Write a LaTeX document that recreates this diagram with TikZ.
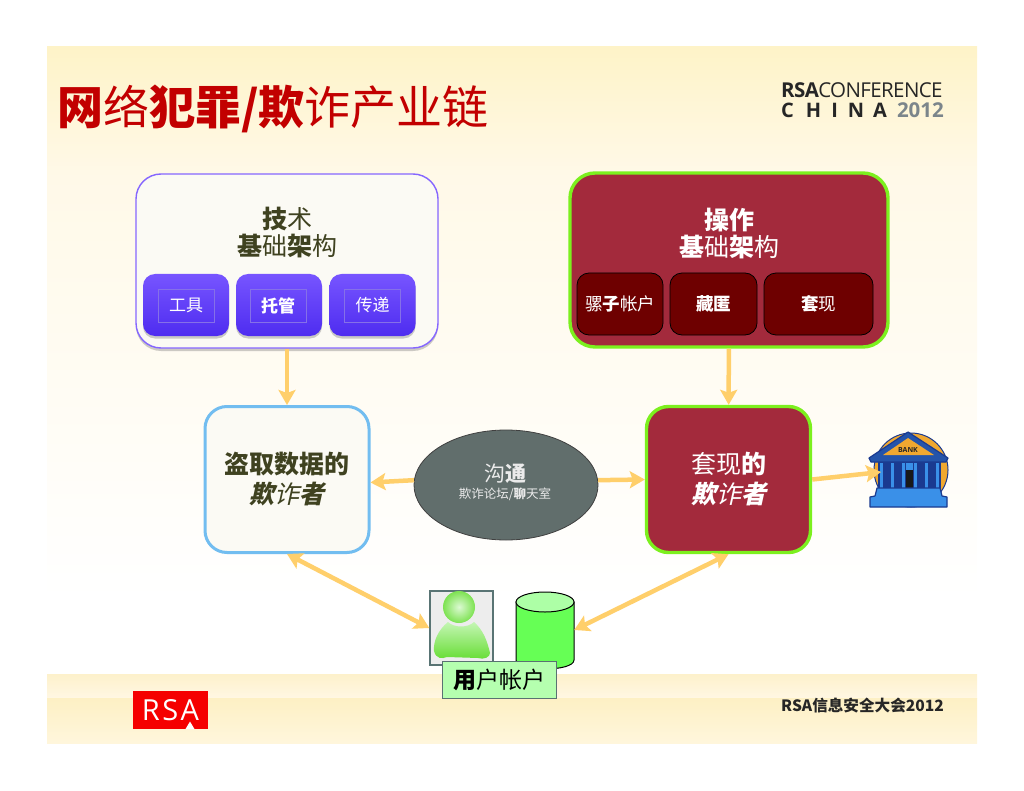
\documentclass[tikz,border=0pt]{standalone}
\usepackage{fontspec}
\usepackage{xcolor}
\usetikzlibrary{arrows.meta,positioning,shapes.geometric,shadows}
\setmainfont{Noto Sans CJK SC}
\newfontfamily\cjkslant[FakeSlant=0.22]{Noto Sans CJK SC}
\newfontfamily\logofont{Open Sans}
\newfontfamily\logotight[LetterSpace=-3]{Open Sans}
\newcommand{\fsize}[2]{\fontsize{#1}{#2}\selectfont}
\definecolor{arrowgold}{HTML}{FFCF6B}
\definecolor{crimson}{HTML}{A32A3C}
\definecolor{limeline}{HTML}{7CF01E}
\definecolor{skyline}{HTML}{72BDF0}
\definecolor{olivetext}{HTML}{3F4220}
\definecolor{techviolet}{HTML}{7755FF}
\definecolor{techdeep}{HTML}{4E2CF0}
\definecolor{techedge}{HTML}{8570E8}
\definecolor{paper}{HTML}{FBFAF4}
\definecolor{bankblue}{HTML}{1A3A90}
\definecolor{bankcol}{HTML}{3A90E8}
\definecolor{bankgold}{HTML}{F0A830}

\begin{document}
\begin{tikzpicture}[
  x=1pt, y=-1pt,
  techbox/.style={rectangle, rounded corners=25pt, draw=techviolet!90!white, line width=1.4pt, fill=paper, minimum width=302pt, minimum height=174pt, inner sep=0pt, drop shadow={shadow xshift=0pt, shadow yshift=-3pt, opacity=.4}},
  opsbox/.style={rectangle, rounded corners=25pt, draw=limeline, line width=3.4pt, fill=crimson, minimum width=318pt, minimum height=174pt, inner sep=0pt},
  techitem/.style={rectangle, rounded corners=12pt, top color=techviolet, bottom color=techdeep, minimum width=86pt, minimum height=62pt, inner sep=0pt, drop shadow={shadow xshift=0pt, shadow yshift=-2.5pt, opacity=.4}},
  techtag/.style={rectangle, draw=techedge, line width=.6pt, text=white, font=\fsize{17}{17}, minimum width=56pt, minimum height=33pt, inner sep=0pt},
  opsitem/.style={rectangle, rounded corners=12pt, draw=black, line width=.8pt, fill=red!43!black, text=white, font=\fsize{17.5}{18}, minimum height=62pt, inner sep=0pt},
  fraudbox/.style={rectangle, rounded corners=22pt, minimum width=164pt, minimum height=146pt, inner sep=0pt, align=center, font=\fsize{25}{30}},
  arrow/.style={-{Stealth[length=15pt,width=17pt,inset=3pt]}, line width=4.5pt, arrowgold},
  arrowboth/.style={{Stealth[length=15pt,width=17pt,inset=3pt]}-{Stealth[length=15pt,width=17pt,inset=3pt]}, line width=4.5pt, arrowgold}
]
\useasboundingbox (0,0) rectangle (1024,791);

% 背景
\definecolor{bgtop}{HTML}{FEF3C8}
\definecolor{bgmid}{HTML}{FFF9E8}
\shade[top color=bgtop, bottom color=bgmid] (47,47) rectangle (977,176);
\shade[top color=bgmid, bottom color=white] (47,175.5) rectangle (977,600);
\fill[white] (47,599.5) rectangle (977,674);
\definecolor{foota}{HTML}{FDF1CB}
\definecolor{footb}{HTML}{FFF7E3}
\definecolor{footc}{HTML}{FDF0C4}
\definecolor{footd}{HTML}{FFF6DC}
\shade[top color=foota, bottom color=footb] (47,674) rectangle (977,698);
\shade[top color=footc, bottom color=footd] (47,698) rectangle (977,743);

% 标题
\node[anchor=west, text=red!76!black, inner sep=0pt, font=\fsize{46}{46}] (title) at (57,109) {\textbf{网}络\textbf{犯罪/欺}诈产业链};

% 右上标志
\node[anchor=west, inner sep=0pt, text=black!85, font=\logotight\fsize{20.5}{20}] (logotop) at (781,90) {\textbf{RSA}CONFERENCE};
\node[anchor=west, inner sep=0pt, text=black!85, font=\logofont\bfseries\fsize{20}{20}] (logochina) at (781,110) {C\kern12pt H\kern10pt I\kern10pt N\kern9pt A};
\node[anchor=east, inner sep=0pt, text=black!55!cyan!30!gray, font=\logofont\bfseries\fsize{20.5}{20}] (logoyear) at (944,110) {2012};

% 左上（技术）
\node[techbox] (tech) at (287,261) {};
\node[align=center, text=olivetext, font=\fsize{25}{27}] (techlabel) at (287,233) {\textbf{技}术\\\textbf{基}础\textbf{架}构};
\node[techitem] (tools) at (186,305) {};
\node[techitem] (hosting) at (279,305) {};
\node[techitem] (delivery) at (372.5,305) {};
\node[techtag] (toolstag) at (186,305.5) {工具};
\node[techtag] (hostingtag) at (278,305.5) {\textbf{托管}};
\node[techtag] (deliverytag) at (372.5,305.5) {传递};

% 右上（操作）
\node[opsbox] (ops) at (729,260) {};
\node[align=center, text=white, font=\fsize{25}{27}] (opslabel) at (729,234) {\textbf{操作}\\\textbf{基}础\textbf{架}构};
\node[opsitem, minimum width=86pt] (mules) at (620,304) {骡\textbf{子}帐户};
\node[opsitem, minimum width=87pt] (hiding) at (713.5,304) {\textbf{藏匿}};
\node[opsitem, minimum width=109pt] (cashout) at (818.5,304) {\textbf{套}现};

% 中段
\node[fraudbox, draw=skyline, line width=3pt, fill=paper, text=olivetext] (thief) at (287,479.5) {\textbf{盗取数据的}\\{\cjkslant\textbf{欺}诈\textbf{者}}};
\node[fraudbox, draw=limeline, line width=3.4pt, fill=crimson, text=white] (casher) at (728.5,479.5) {套现\textbf{的}\\{\cjkslant\textbf{欺}诈\textbf{者}}};
\definecolor{chatgrey}{HTML}{616E6C}
\node[ellipse, draw=black!75, line width=.8pt, fill=chatgrey, minimum width=184pt, minimum height=110pt, inner sep=0pt] (chat) at (506,485) {};
\node[text=white!92!black, inner sep=0pt, font=\fsize{21}{21}] (chattitle) at (505,474) {沟\textbf{通}};
\node[text=white!92!black, inner sep=0pt, font=\fsize{12.5}{13}, below=4pt of chattitle] (chatsub) {欺诈论坛/\textbf{聊}天室};

% 银行
\draw[line width=1pt, draw=bankblue, fill=bankgold] (911,470) circle (37);
\draw[line width=1pt, draw=bankblue, fill=bankblue] (878,460) rectangle (940,490);
\fill[black!90] (905,468) rectangle (913,490);
\fill[bankcol] (905,463) rectangle (913,470);
\draw[line width=.5pt, draw=bankblue, fill=bankcol]
  (879,462) rectangle (883,489) (890,462) rectangle (894,489) (901,462) rectangle (905,489)
  (913,462) rectangle (917,489) (924,462) rectangle (928,489) (935,462) rectangle (939,489);
\draw[line width=1.2pt, draw=bankblue, fill=bankcol, line join=round] (877,488) -- (940,488) -- (942,496) -- (947,497) -- (947,507) -- (870,507) -- (870,497) -- (875,496) -- cycle;
\draw[line width=1.2pt, draw=bankblue, fill=bankblue!70!bankcol, line join=round] (908,432) -- (948,458) -- (946,462) -- (871,462) -- (869,458) -- cycle;
\fill[bankgold] (908,438) -- (934,455) -- (883,455) -- cycle;
\node[inner sep=0pt, text=black!85, font=\logofont\bfseries\fsize{7}{7}] (bank) at (908,450) {BANK};
\coordinate (bankdoor) at (881,472);

% 用户
\definecolor{usergreen}{HTML}{66DD33}
\definecolor{userpale}{HTML}{C4F6B4}
\node[rectangle, draw=black!30!teal!30!gray, line width=1.4pt, fill=black!7, minimum width=63pt, minimum height=74pt, inner sep=0pt] (user) at (461.5,628) {};
\shade[top color=userpale, bottom color=usergreen, draw=none] (448,622) .. controls (438,630) and (433,642) .. (434,651) .. controls (436,659) and (442,659) .. (447,657) -- (478,658) .. controls (484,660) and (490,657) .. (490,653) .. controls (487,640) and (483,630) .. (474,622) .. controls (468,628) and (454,628) .. (448,622);
\shade[inner color=userpale!60!white, outer color=usergreen!85!white] (459,607) circle (16);
\node[minimum width=58pt, minimum height=76pt, inner sep=0pt] (db) at (545,630) {};
\definecolor{dbbody}{HTML}{66FF55}
\definecolor{dbtop}{HTML}{ADFFA6}
\draw[line width=1pt, fill=dbbody] (516,602) -- (516,660) .. controls (516,672) and (574,672) .. (574,660) -- (574,602) -- cycle;
\draw[line width=1pt, fill=dbtop] (545,602) ellipse (29 and 10);
\node[rectangle, draw=black!35!teal!30!gray, line width=.9pt, fill=dbtop!90!white, minimum width=114pt, minimum height=37pt, inner sep=0pt, font=\fsize{23}{23}] (account) at (499,679.5) {\textbf{用}户帐户};

% 页脚
\node[rectangle, fill=red!96!black, minimum width=75pt, minimum height=38pt, inner sep=0pt, text=white, font=\logofont\fsize{29}{29}] (rsalogo) at (170.5,710) {R\kern2.5pt S\kern2.5pt A};
\fill[white] (190,721.5) -- (194.5,729) -- (185.5,729) -- cycle;
\node[anchor=west, inner sep=0pt, text=black!85, font=\bfseries\fsize{15.6}{16}] (footer) at (781,706) {RSA信息安全大会2012};

% 箭头
\draw[arrow] (tech) -- (thief);
\draw[arrow] (ops) -- (casher);
\draw[arrow] (chat.177) -- ([yshift=-3pt]thief.east);
\draw[arrow] (chat.3) -- (casher.west);
\draw[arrow] (casher.east) -- (bankdoor);
\draw[arrowboth] (thief.south) -- (user.west);
\draw[arrowboth] (casher.south) -- (db.east);

\end{tikzpicture}
\end{document}
